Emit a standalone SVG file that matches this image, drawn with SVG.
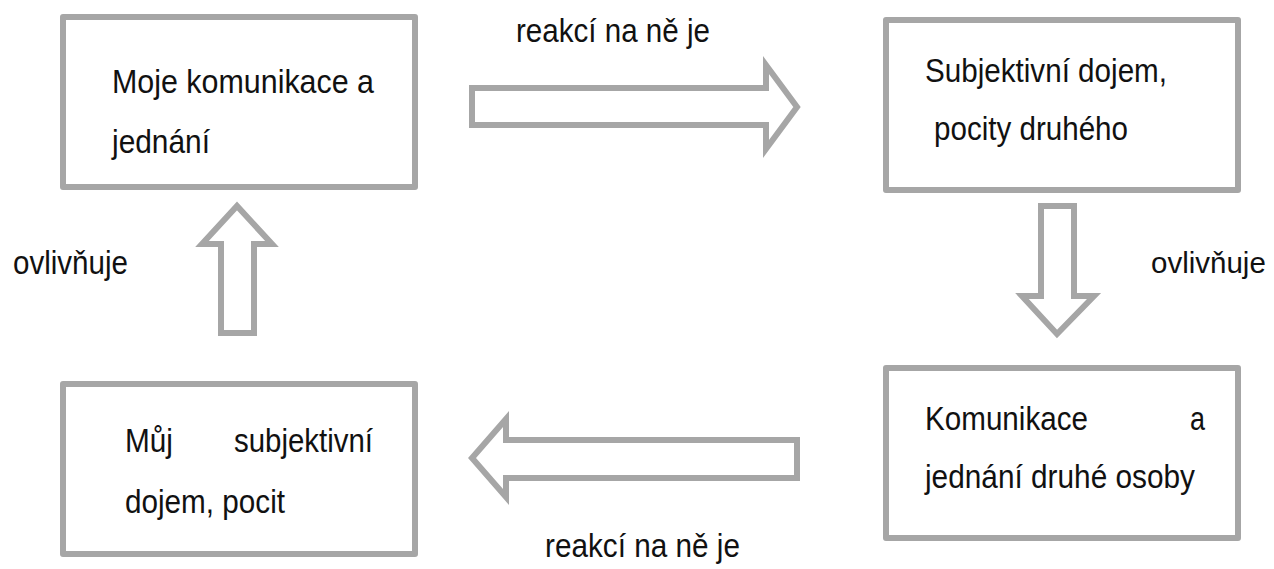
<svg xmlns="http://www.w3.org/2000/svg" width="1274" height="569" viewBox="0 0 1274 569">
<style>
.box{fill:#fff;stroke:#a6a6a6;stroke-width:6;stroke-linejoin:round}
.arr{fill:#fff;stroke:#a6a6a6;stroke-width:6;stroke-linejoin:miter}
text{font-family:"Liberation Sans",Arial,sans-serif;font-size:33px;fill:#111}
</style>
<rect width="1274" height="569" fill="#fff"/>
<g id="connectors">
<polygon class="arr" points="472,88 766,88 766,65 797,107 766,149 766,125 472,125"/>
<polygon class="arr" points="1041,206 1074,206 1074,296 1094,296 1057,334 1022,296 1041,296"/>
<polygon class="arr" points="797,440 506,440 506,419 472,458 506,497 506,478 797,478"/>
<polygon class="arr" points="221,333 254,333 254,244 272,244 237,206 202,244 221,244"/>
<text x="516" y="42" textLength="194" lengthAdjust="spacingAndGlyphs">reakcí na ně je</text>
<text x="545" y="557" textLength="195" lengthAdjust="spacingAndGlyphs">reakcí na ně je</text>
<text x="13" y="274" textLength="115" lengthAdjust="spacingAndGlyphs">ovlivňuje</text>
<text x="1151" y="273" style="font-size:29.5px">ovlivňuje</text>
</g>
<g id="node-moje">
<rect class="box" x="63" y="17" width="352" height="170"/>
<text x="112" y="93" textLength="262" lengthAdjust="spacingAndGlyphs">Moje komunikace a</text>
<text x="112" y="153" textLength="98" lengthAdjust="spacingAndGlyphs">jednání</text>
</g>
<g id="node-subjektivni">
<rect class="box" x="886" y="20" width="352" height="170"/>
<text x="925" y="82" textLength="242" lengthAdjust="spacingAndGlyphs">Subjektivní dojem,</text>
<text x="934" y="140" textLength="194" lengthAdjust="spacingAndGlyphs">pocity druhého</text>
</g>
<g id="node-komunikace">
<rect class="box" x="886" y="368" width="352" height="170"/>
<text x="925" y="430" textLength="163" lengthAdjust="spacingAndGlyphs">Komunikace</text>
<text x="1190" y="430" textLength="15" lengthAdjust="spacingAndGlyphs">a</text>
<text x="925" y="488" textLength="270" lengthAdjust="spacingAndGlyphs">jednání druhé osoby</text>
</g>
<g id="node-muj">
<rect class="box" x="63" y="384" width="352" height="170"/>
<text x="125" y="452" textLength="48" lengthAdjust="spacingAndGlyphs">Můj</text>
<text x="234" y="452" textLength="139" lengthAdjust="spacingAndGlyphs">subjektivní</text>
<text x="125" y="513" textLength="160" lengthAdjust="spacingAndGlyphs">dojem, pocit</text>
</g>
</svg>
